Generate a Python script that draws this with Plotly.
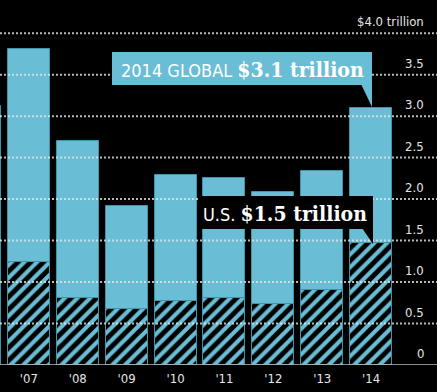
import plotly.graph_objects as go

# ---- data ----
years = ["'06", "'07", "'08", "'09", "'10", "'11", "'12", "'13", "'14"]
global_vals = [3.12, 3.81, 2.70, 1.92, 2.29, 2.26, 2.09, 2.34, 3.10]
us_vals = [1.18, 1.24, 0.81, 0.68, 0.77, 0.81, 0.73, 0.91, 1.47]
ytick_vals = [0, 0.5, 1.0, 1.5, 2.0, 2.5, 3.0, 3.5, 4.0]
ytick_text = ["0", "0.5", "1.0", "1.5", "2.0", "2.5", "3.0", "3.5", "$4.0 trillion"]

W, H = 437, 392
BOTTOM = 27
PLOT_H = H - BOTTOM
X0, X1 = 0.41, 0.41 + 437 / 48.9
Y0, Y1 = 0, 4.40

BLUE = "#69bdd4"
EDGE = "#3f93aa"
SANS = "'DejaVu Sans Condensed', 'Liberation Sans Narrow', 'DejaVu Sans', sans-serif"
SERIF = "'DejaVu Serif Condensed', 'DejaVu Serif', serif"


def xd(px):
    return X0 + px * (X1 - X0) / W


def yd(py):
    return Y1 - py * (Y1 - Y0) / PLOT_H


xs = list(range(len(years)))

fig = go.Figure()
fig.add_trace(go.Bar(
    x=xs, y=global_vals, width=0.86,
    marker=dict(color=BLUE, line=dict(color=EDGE, width=1)),
    hoverinfo="skip",
))
fig.add_trace(go.Bar(
    x=xs, y=us_vals, width=0.86,
    marker=dict(color=BLUE, line=dict(color=EDGE, width=1),
                pattern=dict(shape="/", fillmode="overlay", fgcolor="#000000",
                             fgopacity=1, size=9, solidity=0.55)),
    hoverinfo="skip",
))

shapes = []
# dotted gridlines drawn above bars
for v in ytick_vals[1:]:
    shapes.append(dict(type="line", xref="paper", yref="y", x0=0, x1=1, y0=v, y1=v,
                       line=dict(color="rgba(230,230,230,0.8)", width=2, dash="2px,2px"),
                       layer="above"))
# baseline
shapes.append(dict(type="line", xref="paper", yref="y", x0=0, x1=1, y0=0, y1=0,
                   line=dict(color="#bbbbbb", width=1.5), layer="above"))

# GLOBAL callout box + tail
shapes.append(dict(type="rect", xref="x", yref="y", x0=xd(112), x1=xd(372), y0=yd(52), y1=yd(85),
                   fillcolor=BLUE, line=dict(width=0), layer="above"))
shapes.append(dict(type="path", xref="x", yref="y",
                   path=f"M {xd(361)} {yd(84)} L {xd(372)} {yd(84)} L {xd(372)} {yd(107)} Z",
                   fillcolor=BLUE, line=dict(width=0), layer="above"))
# U.S. callout box + tail
shapes.append(dict(type="rect", xref="x", yref="y", x0=xd(199), x1=xd(373), y0=yd(196), y1=yd(229),
                   fillcolor="#000000", line=dict(width=0), layer="above"))
shapes.append(dict(type="path", xref="x", yref="y",
                   path=f"M {xd(362)} {yd(228)} L {xd(373)} {yd(228)} L {xd(373)} {yd(244)} Z",
                   fillcolor="#000000", line=dict(width=0), layer="above"))

annotations = []
for v, t in zip(ytick_vals, ytick_text):
    annotations.append(dict(x=426 / W, xref="paper", y=v, yref="y", text=t, showarrow=False,
                            xanchor="right", yanchor="bottom", yshift=2,
                            font=dict(family=SANS, size=13, color="#e6e6e6")))

annotations.append(dict(
    x=xd(242.5), y=yd(69), xref="x", yref="y", showarrow=False,
    xanchor="center", yanchor="middle",
    text=(f'<span style="font-family:{SANS};font-size:18px">2014 GLOBAL </span>'
          f'<span style="font-family:{SERIF};font-size:21px;font-weight:bold">$3.1 trillion</span>'),
    font=dict(family=SANS, size=18, color="#ffffff"),
))
annotations.append(dict(
    x=xd(285), y=yd(213), xref="x", yref="y", showarrow=False,
    xanchor="center", yanchor="middle",
    text=(f'<span style="font-family:{SANS};font-size:18px">U.S. </span>'
          f'<span style="font-family:{SERIF};font-size:21px;font-weight:bold">$1.5 trillion</span>'),
    font=dict(family=SANS, size=18, color="#ffffff"),
))

fig.update_layout(
    width=W, height=H,
    paper_bgcolor="#000000", plot_bgcolor="#000000",
    margin=dict(l=0, r=0, t=0, b=BOTTOM, pad=0),
    barmode="overlay", bargap=0,
    showlegend=False,
    shapes=shapes,
    annotations=annotations,
    xaxis=dict(range=[X0, X1], tickvals=xs, ticktext=years, showgrid=False, zeroline=False,
               showline=False, ticks="", ticklabelstandoff=4,
               tickfont=dict(family=SANS, size=13, color="#e6e6e6"), fixedrange=True),
    yaxis=dict(range=[Y0, Y1], showgrid=False, zeroline=False, showticklabels=False,
               showline=False, ticks="", fixedrange=True),
)

fig.write_html(
    "out.html",
    config={"displayModeBar": False},
    post_script="document.body.style.margin='0';document.body.style.padding='0';"
                "document.body.style.background='#000';",
)
